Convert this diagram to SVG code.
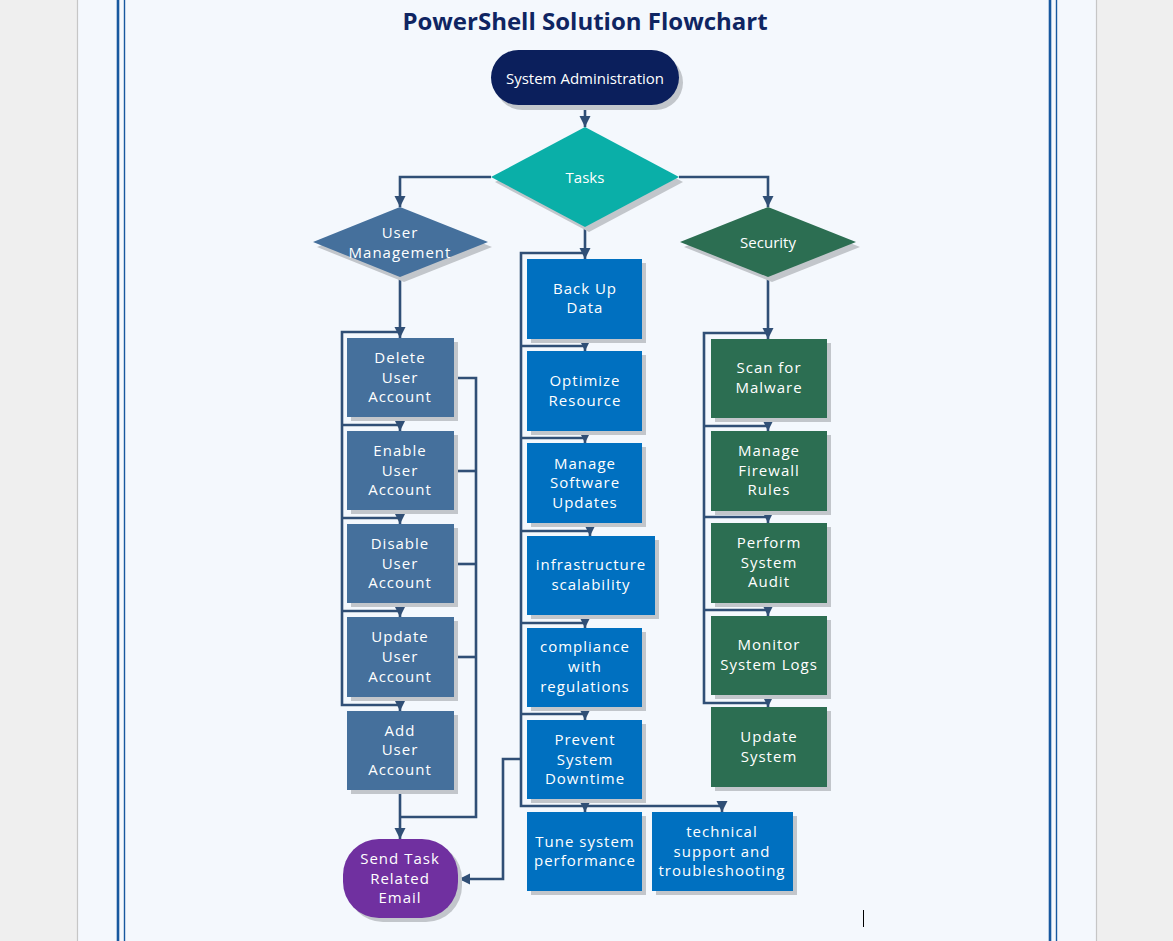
<svg xmlns="http://www.w3.org/2000/svg" width="1173" height="941" viewBox="0 0 1173 941">
<style>
.t{font-family:"Open Sans","Liberation Sans",sans-serif;font-size:15px;fill:#ffffff;text-anchor:middle;dominant-baseline:central;letter-spacing:1px}
.t0{letter-spacing:0}
.c{fill:none;stroke:#304f76;stroke-width:2.6;stroke-linejoin:miter}
.a{marker-end:url(#ah)}
.sh{fill:#c2c6cb}
.um{fill:#45709c}
.mid{fill:#0070c0}
.sec{fill:#2c6e52}
</style>
<defs>
<marker id="ah" markerUnits="userSpaceOnUse" markerWidth="14" markerHeight="14" viewBox="0 0 14 14" refX="12" refY="7" orient="auto">
<path d="M1,1.5 L12,7 L1,12.5 Z" fill="#304f76"/>
</marker>
</defs>
<rect width="1173" height="941" fill="#efefef"/>
<rect x="77" y="0" width="1019" height="941" fill="#f4f8fd"/>
<line x1="77.5" y1="0" x2="77.5" y2="941" stroke="#c6c6c6" stroke-width="1.2"/>
<line x1="1096.5" y1="0" x2="1096.5" y2="941" stroke="#c6c6c6" stroke-width="1.2"/>
<line x1="118" y1="0" x2="118" y2="941" stroke="#17589f" stroke-width="2.6"/>
<line x1="124.5" y1="0" x2="124.5" y2="941" stroke="#17589f" stroke-width="1.4"/>
<line x1="1050" y1="0" x2="1050" y2="941" stroke="#17589f" stroke-width="2.6"/>
<line x1="1056.5" y1="0" x2="1056.5" y2="941" stroke="#17589f" stroke-width="1.4"/>
<line x1="863.5" y1="910" x2="863.5" y2="927" stroke="#000" stroke-width="1"/>

<text x="585" y="30" font-family="'Open Sans','Liberation Sans',sans-serif" font-size="24" font-weight="bold" fill="#0f2562" text-anchor="middle">PowerShell Solution Flowchart</text>

<g id="connectors">
<path class="c a" d="M585,105 V127"/>
<path class="c a" d="M491,177 H400 V207"/>
<path class="c a" d="M679,177 H768 V207"/>
<path class="c a" d="M400,277 V338"/>
<path class="c a" d="M400,332 H342 V705 H400 V711"/>
<path class="c a" d="M342,425 H400 V431"/>
<path class="c a" d="M342,518 H400 V524"/>
<path class="c a" d="M342,611 H400 V617"/>
<path class="c" d="M454,378 H476 V817 H400"/>
<path class="c" d="M454,471 H476"/>
<path class="c" d="M454,564 H476"/>
<path class="c" d="M454,657 H476"/>
<path class="c a" d="M400,790 V839"/>
<path class="c a" d="M585,227 V259"/>
<path class="c a" d="M585,253 H521 V806 H722 V812"/>
<path class="c a" d="M521,346 H585 V351"/>
<path class="c a" d="M521,438 H585 V443"/>
<path class="c a" d="M521,531 H590 V536"/>
<path class="c a" d="M521,623 H585 V628"/>
<path class="c a" d="M521,714 H585 V720"/>
<path class="c a" d="M585,806 V812"/>
<path class="c a" d="M521,759 H503 V879 H459"/>
<path class="c a" d="M768,277 V339"/>
<path class="c a" d="M768,333 H704 V703 H768 V707"/>
<path class="c a" d="M704,426 H768 V431"/>
<path class="c a" d="M704,517 H768 V523"/>
<path class="c a" d="M704,610 H768 V616"/>
</g>

<g id="n-sysadmin">
<rect class="sh" x="495" y="55" width="188" height="55" rx="27.5"/>
<rect x="491" y="50" width="188" height="55" rx="27.5" fill="#0b1f5c"/>
<text class="t t0" x="585" y="77.5">System Administration</text>
</g>
<g id="n-tasks">
<polygon class="sh" points="589,132 683,182 589,232 495,182"/>
<polygon points="585,127 679,177 585,227 491,177" fill="#0aafa8"/>
<text class="t t0" x="585" y="177">Tasks</text>
</g>
<g id="n-usermgmt">
<polygon class="sh" points="404,212 492,247 404,282 317,247"/>
<polygon class="um" points="400,207 488,242 400,277 313,242"/>
<text class="t" x="400" y="232">User</text>
<text class="t" x="400" y="252">Management</text>
</g>
<g id="n-security">
<polygon class="sh" points="772,212 860,247 772,282 684,247"/>
<polygon class="sec" points="768,207 856,242 768,277 680,242"/>
<text class="t t0" x="768" y="242">Security</text>
</g>

<g id="n-delete"><rect class="sh" x="351" y="342" width="107" height="79"/><rect class="um" x="347" y="338" width="107" height="79"/>
<text class="t" x="400" y="357">Delete</text><text class="t" x="400" y="377">User</text><text class="t" x="400" y="396">Account</text></g>
<g id="n-enable"><rect class="sh" x="351" y="435" width="107" height="79"/><rect class="um" x="347" y="431" width="107" height="79"/>
<text class="t" x="400" y="450">Enable</text><text class="t" x="400" y="470">User</text><text class="t" x="400" y="489">Account</text></g>
<g id="n-disable"><rect class="sh" x="351" y="528" width="107" height="79"/><rect class="um" x="347" y="524" width="107" height="79"/>
<text class="t" x="400" y="543">Disable</text><text class="t" x="400" y="563">User</text><text class="t" x="400" y="582">Account</text></g>
<g id="n-update"><rect class="sh" x="351" y="621" width="107" height="80"/><rect class="um" x="347" y="617" width="107" height="80"/>
<text class="t" x="400" y="636">Update</text><text class="t" x="400" y="656">User</text><text class="t" x="400" y="676">Account</text></g>
<g id="n-add"><rect class="sh" x="351" y="715" width="107" height="79"/><rect class="um" x="347" y="711" width="107" height="79"/>
<text class="t" x="400" y="730">Add</text><text class="t" x="400" y="749">User</text><text class="t" x="400" y="769">Account</text></g>
<g id="n-email"><rect class="sh" x="347" y="843" width="115" height="79" rx="36"/><rect x="343" y="839" width="115" height="79" rx="36" fill="#7030a0"/>
<text class="t" x="400" y="858">Send Task</text><text class="t" x="400" y="878">Related</text><text class="t" x="400" y="897">Email</text></g>

<g id="n-backup"><rect class="sh" x="531" y="263" width="115" height="80"/><rect class="mid" x="527" y="259" width="115" height="80"/>
<text class="t" x="585" y="288">Back Up</text><text class="t" x="585" y="307">Data</text></g>
<g id="n-optimize"><rect class="sh" x="531" y="355" width="115" height="80"/><rect class="mid" x="527" y="351" width="115" height="80"/>
<text class="t" x="585" y="380">Optimize</text><text class="t" x="585" y="400">Resource</text></g>
<g id="n-software"><rect class="sh" x="531" y="447" width="115" height="80"/><rect class="mid" x="527" y="443" width="115" height="80"/>
<text class="t" x="585" y="463">Manage</text><text class="t" x="585" y="482">Software</text><text class="t" x="585" y="502">Updates</text></g>
<g id="n-infra"><rect class="sh" x="531" y="540" width="128" height="79"/><rect class="mid" x="527" y="536" width="128" height="79"/>
<text class="t" x="591" y="564">infrastructure</text><text class="t" x="591" y="584">scalability</text></g>
<g id="n-compliance"><rect class="sh" x="531" y="632" width="115" height="79"/><rect class="mid" x="527" y="628" width="115" height="79"/>
<text class="t" x="585" y="646">compliance</text><text class="t" x="585" y="666">with</text><text class="t" x="585" y="686">regulations</text></g>
<g id="n-prevent"><rect class="sh" x="531" y="724" width="115" height="79"/><rect class="mid" x="527" y="720" width="115" height="79"/>
<text class="t" x="585" y="739">Prevent</text><text class="t" x="585" y="759">System</text><text class="t" x="585" y="778">Downtime</text></g>
<g id="n-tune"><rect class="sh" x="531" y="816" width="115" height="79"/><rect class="mid" x="527" y="812" width="115" height="79"/>
<text class="t" x="585" y="841">Tune system</text><text class="t" x="585" y="860">performance</text></g>
<g id="n-tech"><rect class="sh" x="656" y="816" width="141" height="79"/><rect class="mid" x="652" y="812" width="141" height="79"/>
<text class="t" x="722" y="831">technical</text><text class="t" x="722" y="851">support and</text><text class="t" x="722" y="870">troubleshooting</text></g>

<g id="n-scan"><rect class="sh" x="715" y="343" width="116" height="79"/><rect class="sec" x="711" y="339" width="116" height="79"/>
<text class="t" x="769" y="367">Scan for</text><text class="t" x="769" y="387">Malware</text></g>
<g id="n-firewall"><rect class="sh" x="715" y="435" width="116" height="80"/><rect class="sec" x="711" y="431" width="116" height="80"/>
<text class="t" x="769" y="450">Manage</text><text class="t" x="769" y="470">Firewall</text><text class="t" x="769" y="489">Rules</text></g>
<g id="n-audit"><rect class="sh" x="715" y="527" width="116" height="80"/><rect class="sec" x="711" y="523" width="116" height="80"/>
<text class="t" x="769" y="542">Perform</text><text class="t" x="769" y="562">System</text><text class="t" x="769" y="581">Audit</text></g>
<g id="n-logs"><rect class="sh" x="715" y="620" width="116" height="79"/><rect class="sec" x="711" y="616" width="116" height="79"/>
<text class="t" x="769" y="644">Monitor</text><text class="t" x="769" y="664">System Logs</text></g>
<g id="n-updsys"><rect class="sh" x="715" y="711" width="116" height="80"/><rect class="sec" x="711" y="707" width="116" height="80"/>
<text class="t" x="769" y="736">Update</text><text class="t" x="769" y="756">System</text></g>
</svg>
